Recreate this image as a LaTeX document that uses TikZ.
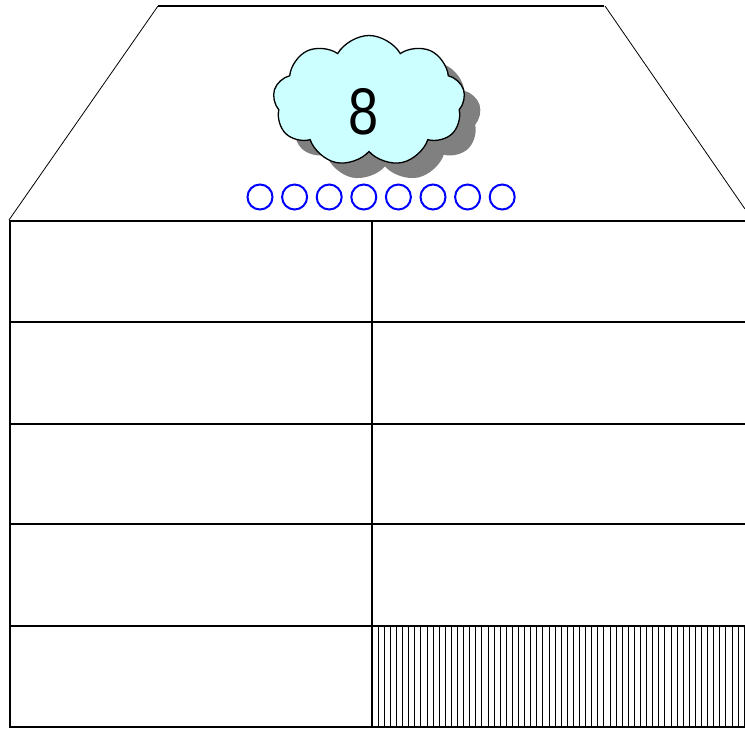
\documentclass[tikz,border=0pt]{standalone}
\usepackage{fontspec}
\usepackage{xcolor}
\usetikzlibrary{shapes.symbols,shadows}
\newfontfamily\cloudfont{Liberation Sans}
\definecolor{cloudcyan}{RGB}{204,255,255}

\begin{document}
\begin{tikzpicture}[x=1pt, y=-1pt,
		thinline/.style={line width=0.8pt},
		gridline/.style={line width=1.6pt},
		bead/.style={circle, draw=blue, line width=2pt, minimum size=25pt, inner sep=0pt}]
		\useasboundingbox (0,0) rectangle (745,729);
		% roof
		\draw[gridline] (158,6) -- (604,6);
		\draw[thinline] (158,6) -- (9,220);
		\draw[thinline] (605,6) -- (745,209);
		\draw[gridline] (9,221) -- (745,221);
		% table
		\foreach \y in {322,424,524,626,727}
			\draw[gridline] (10,\y) -- (745,\y);
		\draw[gridline] (10,221) -- (10,728);
		\draw[gridline] (372,221) -- (372,728);
		% hatched cell
		\foreach \i in {1,...,61}
			\draw[line width=0.8pt] ({372+6.1*\i},626) -- ({372+6.1*\i},727);
		% cloud with number
		\node[cloud, cloud puffs=9, cloud puff arc=120, aspect=1.5, draw, line width=1.3pt,
			fill=cloudcyan, minimum width=192pt, minimum height=131pt, inner sep=0pt,
			drop shadow={shadow xshift=16pt, shadow yshift=-15pt, fill=gray, opacity=1}]
			(cloud) at (369,101) {};
		\node[inner sep=0pt, xscale=0.82] (number) at (364,112) {\cloudfont\fontsize{66}{66}\selectfont 8};
		\foreach \i in {0,...,7}
			\node[bead] (bead\i) at ({260+34.6*\i},197) {};
	\end{tikzpicture}
\end{document}
